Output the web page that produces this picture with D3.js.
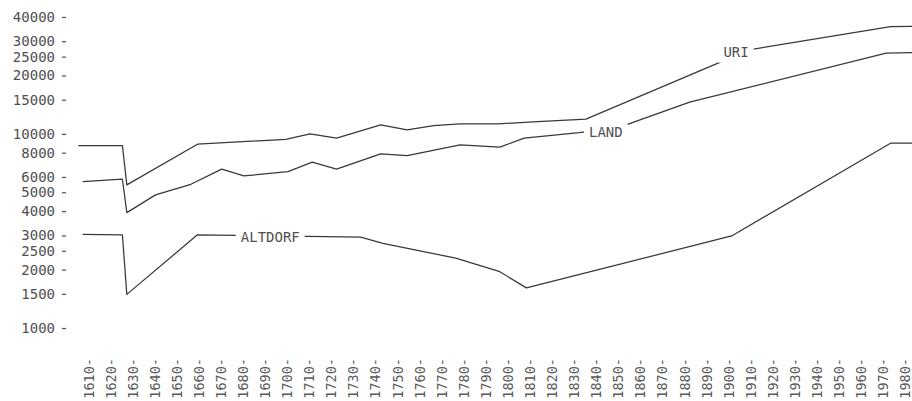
<!DOCTYPE html>
<html>
<head>
<meta charset="utf-8">
<script src="https://cdn.jsdelivr.net/npm/d3@7"></script>
<style>
  html, body { margin: 0; padding: 0; background: #fff; }
  svg text { font-family: "DejaVu Sans Mono", monospace; font-size: 14px; fill: #505050; }
  svg .xlab text { font-size: 13.5px; fill: #5a5a5a; }
</style>
</head>
<body>
<div id="graphicContainer"></div>
<script>

// population, log scale
var uriYears   = [1605, 1625, 1627, 1659, 1699, 1710, 1722, 1742, 1754, 1766, 1778, 1795, 1811, 1835, 1909, 1973, 1983]
var uriValues  = [8700, 8700, 5460, 8850, 9370, 10000, 9500, 11130, 10490, 11040, 11260, 11260, 11530, 11910, 27100, 35700, 35800]

var landYears  = [1607, 1625, 1627, 1640, 1656, 1670, 1680, 1700, 1711, 1722, 1742, 1754, 1778, 1796, 1807, 1832, 1850, 1882, 1971, 1983]
var landValues = [5680, 5840, 3930, 4850, 5500, 6580, 6070, 6390, 7150, 6580, 7890, 7730, 8780, 8540, 9500, 10150, 10800, 14570, 26060, 26240]

var altYears   = [1607, 1625, 1627, 1659, 1733, 1743, 1776, 1796, 1808, 1901, 1973, 1983]
var altValues  = [3040, 3020, 1490, 3020, 2935, 2730, 2290, 1950, 1610, 2980, 8955, 8955]

var seriesNames = ["URI", "LAND", "ALTDORF"]
// label anchors (year, value) where the name sits on its line
var labelYears  = [1903, 1844, 1692]
var labelValues = [26470, 10240, 2930]

var yTicks = [1000, 1500, 2000, 2500, 3000, 4000, 5000, 6000, 8000, 10000, 15000, 20000, 25000, 30000, 40000]
var xTicks = [1610, 1620, 1630, 1640, 1650, 1660, 1670, 1680, 1690, 1700, 1710, 1720, 1730, 1740, 1750,
	1760, 1770, 1780, 1790, 1800, 1810, 1820, 1830, 1840, 1850, 1860, 1870, 1880, 1890, 1900,
	1910, 1920, 1930, 1940, 1950, 1960, 1970, 1980]

var width = 912
var height = 401

var svg = d3.select("#graphicContainer").append("svg")
	.attr("width", width)
	.attr("height", height)
	.style("display", "block")

var x = d3.scaleLinear()
	.domain([1610, 1980])
	.range([89.3, 906])

var y = d3.scaleLog()
	.domain([1000, 40000])
	.range([328, 17])

// y axis: numbers with a little dash
var yAxis = d3.axisLeft(y)
	.tickValues(yTicks)
	.tickFormat(d3.format("d"))
	.tickSize(4)
	.tickPadding(7)

svg.append("g")
	.attr("transform", "translate(66,0)")
	.call(yAxis)
	.call(g => g.select(".domain").remove())
	.call(g => g.selectAll(".tick line").attr("stroke", "#505050").attr("stroke-width", 1.2))
	.call(g => g.selectAll(".tick text")
		.attr("font-family", null)
		.attr("font-size", null)
		.attr("fill", null))

// x axis: rotated years ending in a dash
svg.append("g")
	.attr("class", "xlab")
	.selectAll("text")
	.data(xTicks)
	.join("text")
		.attr("transform", d => `translate(${x(d) - 0.5},358) rotate(-90)`)
		.attr("text-anchor", "end")
		.attr("dy", "0.35em")
		.text(d => d + "-")

var line = d3.line()
	.x(d => x(d[0]))
	.y(d => y(d[1]))

var series = [
	d3.zip(uriYears, uriValues),
	d3.zip(landYears, landValues),
	d3.zip(altYears, altValues)
]

svg.append("g")
	.selectAll("path")
	.data(series)
	.join("path")
		.attr("fill", "none")
		.attr("stroke", "#383838")
		.attr("stroke-width", 1.25)
		.attr("stroke-linejoin", "round")
		.attr("d", line)

// names sit in a gap cut out of their lines
var labels = svg.append("g")
	.selectAll("g")
	.data(seriesNames)
	.join("g")
		.attr("transform", (d, i) => `translate(${x(labelYears[i])},${y(labelValues[i])})`)

labels.append("text")
	.attr("text-anchor", "middle")
	.attr("dy", "0.35em")
	.text(d => d)

labels.each(function() {
	var g = d3.select(this)
	var bb = g.select("text").node().getBBox()
	g.insert("rect", "text")
		.attr("x", bb.x - 5)
		.attr("y", bb.y - 3)
		.attr("width", bb.width + 10)
		.attr("height", bb.height + 6)
		.attr("fill", "#fff")
})

</script>
</body>
</html>
